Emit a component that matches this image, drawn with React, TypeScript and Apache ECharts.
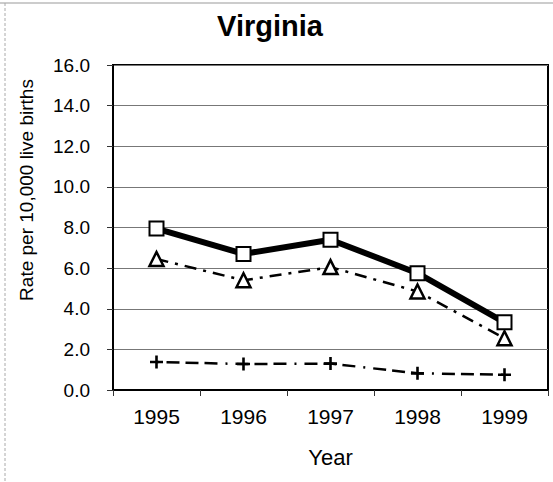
import React, { useEffect, useRef } from "react";
import * as echarts from "echarts";

const years = ["1995", "1996", "1997", "1998", "1999"];
const seriesSquare = [7.95, 6.7, 7.4, 5.75, 3.33];
const seriesTriangle = [6.45, 5.4, 6.05, 4.85, 2.55];
const seriesPlus = [1.38, 1.28, 1.3, 0.82, 0.75];
const yTicks = { min: 0, max: 16, interval: 2 };

const plusPath =
  "path://M4,0 L6,0 L6,4 L10,4 L10,6 L6,6 L6,10 L4,10 L4,6 L0,6 L0,4 L4,4 Z";

const FONT = "'Liberation Sans', Arial, sans-serif";

export default function App() {
  const ref = useRef<HTMLDivElement>(null);
  useEffect(() => {
    if (!ref.current) return;
    const chart = echarts.init(ref.current, undefined, { renderer: "svg" });
    chart.setOption({
      animation: false,
      backgroundColor: "#ffffff",
      textStyle: { fontFamily: FONT, color: "#000" },
      graphic: [
        {
          type: "text",
          x: 270,
          y: 26,
          style: {
            text: "Virginia",
            fontSize: 29,
            fontWeight: "bold",
            fontFamily: FONT,
            fill: "#000",
            align: "center",
            verticalAlign: "middle",
          },
        },
        {
          type: "text",
          x: 26,
          y: 190,
          rotation: Math.PI / 2,
          style: {
            text: "Rate per 10,000 live births",
            fontSize: 19,
            fontFamily: FONT,
            fill: "#000",
            align: "center",
            verticalAlign: "middle",
          },
        },
        {
          type: "line",
          shape: { x1: 0, y1: 3, x2: 553, y2: 3 },
          style: { stroke: "#999", lineWidth: 1 },
        },
        {
          type: "line",
          shape: { x1: 5, y1: 3, x2: 5, y2: 482 },
          style: { stroke: "#aaa", lineWidth: 1, lineDash: [3, 2] },
        },
      ],
      grid: {
        left: 113,
        right: 5,
        top: 65,
        bottom: 92,
        show: true,
        borderColor: "#000",
        borderWidth: 2,
        backgroundColor: "transparent",
      },
      xAxis: {
        type: "category",
        data: years,
        boundaryGap: true,
        name: "Year",
        nameLocation: "middle",
        nameGap: 56,
        nameTextStyle: { fontSize: 22, color: "#000", fontFamily: FONT },
        axisLine: { show: true, lineStyle: { color: "#000", width: 2 } },
        axisTick: { show: true, length: 6, lineStyle: { color: "#333", width: 1 } },
        axisLabel: { fontSize: 21, color: "#000", margin: 16, fontFamily: FONT },
        splitLine: { show: false },
      },
      yAxis: {
        type: "value",
        min: yTicks.min,
        max: yTicks.max,
        interval: yTicks.interval,
        axisLine: { show: true, lineStyle: { color: "#000", width: 2 } },
        axisTick: { show: true, length: 6, lineStyle: { color: "#333", width: 1 } },
        axisLabel: {
          fontSize: 19,
          color: "#000",
          margin: 23,
          fontFamily: FONT,
          formatter: (v: number) => v.toFixed(1),
        },
        splitLine: { show: true, lineStyle: { color: "#777", width: 1 } },
      },
      series: [
        {
          type: "line",
          data: seriesPlus,
          symbol: plusPath,
          symbolSize: 13,
          itemStyle: { color: "#000" },
          lineStyle: { color: "#000", width: 2.5, type: [2, 8, 13, 6, 13, 6, 13, 8] },
          z: 2,
        },
        {
          type: "line",
          data: seriesTriangle,
          symbol: "triangle",
          symbolSize: 14,
          itemStyle: { color: "#fff", borderColor: "#000", borderWidth: 2.5 },
          lineStyle: { color: "#000", width: 2.5, type: [12, 7, 3, 7] },
          z: 3,
        },
        {
          type: "line",
          data: seriesSquare,
          symbol: "rect",
          symbolSize: 14,
          itemStyle: { color: "#fff", borderColor: "#000", borderWidth: 2 },
          lineStyle: { color: "#000", width: 6 },
          z: 4,
        },
      ],
    });
    return () => chart.dispose();
  }, []);
  return (
    <div style={{ position: "absolute", left: 0, top: 0 }}>
      <div ref={ref} style={{ width: 553, height: 482 }} />
    </div>
  );
}
